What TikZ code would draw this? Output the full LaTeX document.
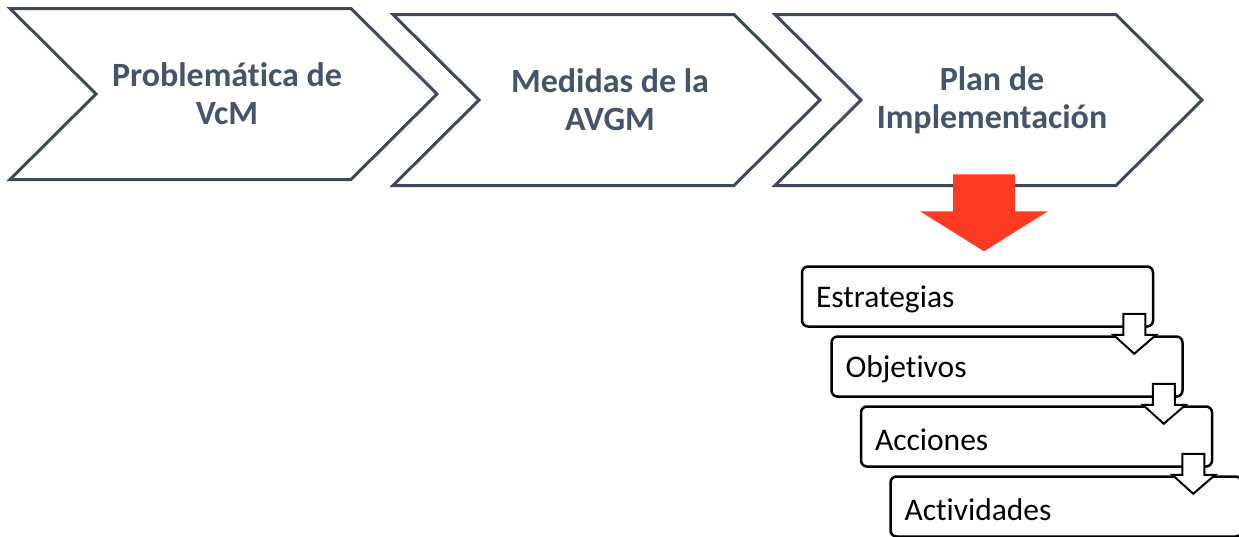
\documentclass[tikz,border=0pt]{standalone}
\usepackage{fontspec}
\setmainfont{Carlito}[Ligatures=NoCommon]
\usepackage{xcolor}
\usepackage{tikz}
\usetikzlibrary{calc}
\definecolor{pizarra}{HTML}{44546A}
\definecolor{bordegalon}{HTML}{3E4A5B}
\definecolor{rojoflecha}{HTML}{FF3A22}
\tikzset{
  galonlinea/.style={draw=bordegalon, line width=3pt, fill=white, line join=miter},
  galontexto/.style={font=\fontsize{34}{38}\selectfont\bfseries, text=pizarra, align=center},
  cajaborde/.style={draw=black, line width=2.5pt, rounded corners=6pt, fill=white,
    minimum width=351pt, minimum height=60pt, text width=323pt, inner xsep=14pt,
    align=left, font=\fontsize{31.5}{36}\selectfont},
  flechahueca/.style={draw=black, line width=2pt, fill=white, line join=miter},
  flecharoja/.style={fill=rojoflecha}
}
\newcommand{\galon}[4]{
  \draw[galonlinea] (#2,#3) -- ++(341,0) -- ++(86,85.5) -- ++(-86,85.5)
    -- ++(-341,0) -- ++(86,-85.5) -- cycle;
  \node[galontexto] (#1) at (#2+217,#3+85.5) {#4};
}
\newcommand{\caja}[3]{
  \node[cajaborde] (#1) at (#2) {\raisebox{-3pt}[\height][\depth]{#3}};
}
\newcommand{\flechita}[1]{
  \draw[flechahueca] ([shift={(-31,-14)}]#1.south east) -- ++(22,0) -- ++(0,21)
    -- ++(11,0) -- ++(-22,19) -- ++(-21,-19) -- ++(10,0) -- cycle;
}

\begin{document}
\begin{tikzpicture}[x=1pt,y=-1pt]
  \clip (0,0) rectangle (1239,536);
  \fill[white] (0,0) rectangle (1239,536);
  \galon{problematica}{10}{8.5}{Problemática de\\VcM}
  \galon{medidas}{393}{14.5}{Medidas de la\\AVGM}
  \galon{plan}{775}{14.5}{Plan de\\Implementación}
  \caja{estrategias}{977.5,296.5}{Estrategias}
  \caja{objetivos}{1007,366.5}{Objetivos}
  \caja{acciones}{1036.5,436.5}{Acciones}
  \caja{actividades}{1066,506.5}{Actividades}
  \coordinate (punta) at ($(estrategias.north)+(6.5,-14)$);
  \fill[flecharoja] (punta) -- ++(64,-40) -- ++(-33,0) -- ++(0,-37) -- ++(-62,0)
    -- ++(0,37) -- ++(-33,0) -- cycle;
  \flechita{estrategias}
  \flechita{objetivos}
  \flechita{acciones}
\end{tikzpicture}
\end{document}
